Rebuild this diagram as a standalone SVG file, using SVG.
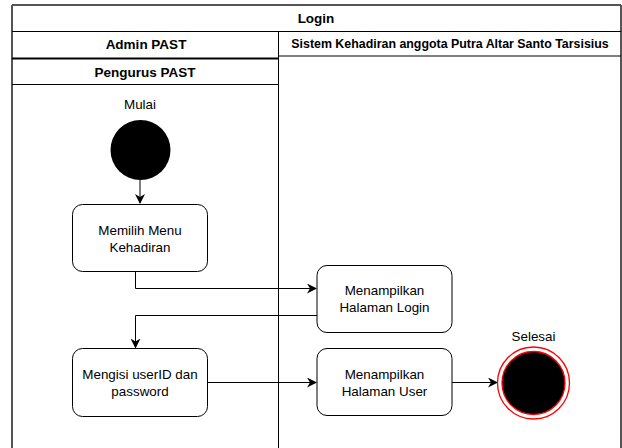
<svg xmlns="http://www.w3.org/2000/svg" width="622" height="448" viewBox="0 0 622 448">
<defs>
<style>
.lane{fill:none;stroke:#000;stroke-width:1}
.frame{fill:none;stroke:#555;stroke-width:2}
.hdr{font-family:"Liberation Sans",Arial,sans-serif;font-size:13.5px;font-weight:bold;fill:#000;text-anchor:middle}
.hdr2{font-family:"Liberation Sans",Arial,sans-serif;font-size:12.4px;font-weight:bold;fill:#000;text-anchor:middle}
.lbl{font-family:"Liberation Sans",Arial,sans-serif;font-size:13.4px;fill:#000;text-anchor:middle}
.box{fill:#fff;stroke:#000;stroke-width:1}
.edge{fill:none;stroke:#000;stroke-width:1}
</style>
<marker id="arr" viewBox="0 0 10 10" refX="9" refY="5" markerWidth="10" markerHeight="10" markerUnits="userSpaceOnUse" orient="auto">
<path d="M0,0 L10,5 L0,10 L3,5 Z" fill="#000"/>
</marker>
</defs>
<rect x="0" y="0" width="622" height="448" fill="#fff"/>
<g id="pool">
<line x1="12" y1="5" x2="621" y2="5" class="frame"/>
<line x1="12" y1="5" x2="12" y2="448" class="frame"/>
<line x1="621" y1="5" x2="621" y2="448" class="frame"/>
<line x1="12" y1="31.5" x2="621" y2="31.5" class="lane"/>
<line x1="278.5" y1="31.5" x2="278.5" y2="448" class="lane"/>
<line x1="278.5" y1="56" x2="621" y2="56" class="lane"/>
<line x1="12" y1="58.5" x2="278.5" y2="58.5" stroke="#000" stroke-width="2"/>
<line x1="12" y1="84.5" x2="278.5" y2="84.5" class="lane"/>
<text x="316" y="23" class="hdr">Login</text>
<text x="146" y="49" class="hdr">Admin PAST</text>
<text x="450" y="48" class="hdr2">Sistem Kehadiran anggota Putra Altar Santo Tarsisius</text>
<text x="145" y="76.5" class="hdr">Pengurus PAST</text>
</g>
<g id="connectors">
<line x1="140" y1="180" x2="140" y2="203" class="edge" marker-end="url(#arr)"/>
<polyline points="135.5,271.5 135.5,288.5 316,288.5" class="edge" marker-end="url(#arr)"/>
<polyline points="317,315.5 135.5,315.5 135.5,347.5" class="edge" marker-end="url(#arr)"/>
<line x1="208" y1="382.5" x2="316" y2="382.5" class="edge" marker-end="url(#arr)"/>
<line x1="452" y1="382.5" x2="497" y2="382.5" class="edge" marker-end="url(#arr)"/>
</g>
<g id="start">
<text x="140" y="109" class="lbl">Mulai</text>
<circle cx="140.5" cy="150" r="30" fill="#000"/>
</g>
<g id="memilih">
<rect x="72.5" y="204.5" width="135" height="67" rx="10" class="box"/>
<text x="140" y="234.5" class="lbl">Memilih Menu</text>
<text x="140" y="251.5" class="lbl">Kehadiran</text>
</g>
<g id="login">
<rect x="317" y="265.5" width="135" height="67" rx="10" class="box"/>
<text x="384.5" y="295" class="lbl">Menampilkan</text>
<text x="384.5" y="312" class="lbl">Halaman Login</text>
</g>
<g id="mengisi">
<rect x="72.5" y="348.5" width="135" height="68" rx="10" class="box"/>
<text x="140" y="378.5" class="lbl">Mengisi userID dan</text>
<text x="140" y="395.5" class="lbl">password</text>
</g>
<g id="user">
<rect x="317" y="348.5" width="135" height="67" rx="10" class="box"/>
<text x="384.5" y="378.5" class="lbl">Menampilkan</text>
<text x="384.5" y="395.5" class="lbl">Halaman User</text>
</g>
<g id="end">
<text x="533.5" y="341" class="lbl">Selesai</text>
<circle cx="533.5" cy="383" r="36" fill="#fff" stroke="#f00" stroke-width="1.3"/>
<circle cx="533.5" cy="383" r="31.5" fill="#000" stroke="#f00" stroke-width="1.3"/>
</g>
</svg>
